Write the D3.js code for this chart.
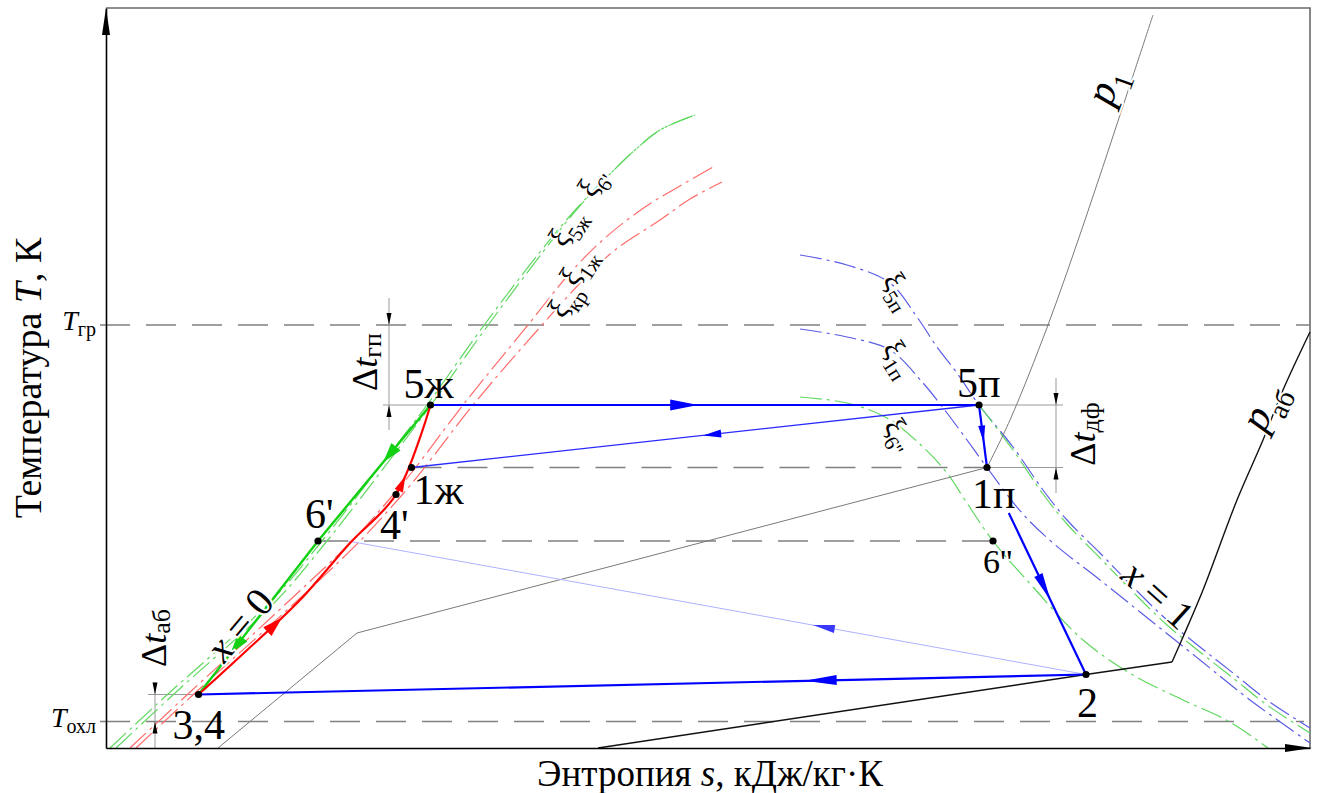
<!DOCTYPE html>
<html>
<head>
<meta charset="utf-8">
<script src="https://cdn.jsdelivr.net/npm/d3@7"></script>
<style>
  body { margin: 0; background: #fff; }
  svg text { font-family: "Liberation Serif", "Times New Roman", serif; fill: #000; }
</style>
</head>
<body>
<svg id="chart" width="1322" height="793" font-family="'Liberation Serif', 'Times New Roman', serif"></svg>
<script>
// ---- cycle state points (s, T in diagram units) ----
const pointLabels = ["5ж", "5п", "1ж", "1п", "4'", "6'", "6''", "3,4", "2"];
const pointS = [3.245, 8.73, 3.055, 8.81, 2.90, 2.12, 8.87, 0.925, 9.80];
const pointT = [3.43, 3.43, 2.805, 2.805, 2.535, 2.07, 2.07, 0.535, 0.735];

// characteristic temperatures on the T axis
const levelNames = ["гр", "охл"];
const levelT = [4.23, 0.265];

// concentration lines, liquid side (x = 0)
const xi6p  = [[0.04,0],[0.62,0.54],[1.66,1.48],[2.16,2.07],[2.75,2.83],[3.21,3.43],[3.76,4.20],[4.34,4.96],[4.71,5.40],[5.04,5.74],[5.29,5.98],[5.54,6.18],[5.89,6.33]];
const xi5zh = [[0.10,0],[0.68,0.54],[1.71,1.48],[2.21,2.07],[2.80,2.83],[3.25,3.43],[3.80,4.20],[4.37,4.96],[4.72,5.40],[5.04,5.74],[5.29,5.98],[5.54,6.18],[5.89,6.33]];
const xi1zh = [[0.24,0],[0.82,0.54],[1.84,1.48],[2.46,2.07],[2.87,2.53],[3.10,2.81],[3.57,3.43],[4.22,4.23],[4.64,4.75],[4.99,5.10],[5.39,5.41],[5.74,5.62],[6.09,5.82]];
const xiKr  = [[0.30,0],[0.88,0.54],[1.92,1.48],[2.54,2.07],[2.96,2.53],[3.19,2.81],[3.67,3.43],[4.36,4.23],[4.79,4.70],[5.09,4.98],[5.54,5.28],[5.84,5.49],[6.16,5.66]];

// concentration lines, vapour side (x = 1)
const xi5p  = [[6.94,4.93],[7.41,4.83],[7.84,4.65],[8.11,4.31],[8.31,4.01],[8.51,3.75],[8.73,3.43],[9.07,3.01],[9.37,2.58],[9.61,2.28],[9.94,1.95],[10.27,1.61],[10.61,1.28],[10.94,1.01],[11.27,0.75],[11.61,0.48],[12.04,0.20]];
const xi1p  = [[6.94,4.19],[7.41,4.11],[7.84,3.98],[8.17,3.65],[8.41,3.35],[8.61,3.08],[8.81,2.805],[9.16,2.35],[9.47,2.05],[9.94,1.68],[10.44,1.28],[10.94,0.88],[11.44,0.48],[12.04,0.05]];
const xi5zhVap = [[8.73,3.43],[9.07,2.98],[9.37,2.54],[9.61,2.24],[9.94,1.90],[10.27,1.56],[10.61,1.23],[10.94,0.96],[11.27,0.70],[11.61,0.43],[12.04,0.15]];
const xi6pp = [[6.94,3.51],[7.41,3.45],[7.81,3.30],[8.17,3.01],[8.41,2.75],[8.59,2.48],[8.87,2.07],[9.27,1.61],[9.77,1.08],[10.27,0.73],[10.77,0.48],[11.24,0.26],[11.62,0]];

// isobars
const p1Low   = [[1.12,0],[2.51,1.15],[8.81,2.805]];
const p1High  = [[8.81,2.805],[9.04,3.28],[9.42,4.23],[9.79,5.28],[10.14,6.33],[10.47,7.33]];
const pAbLow  = [[4.92,0],[9.80,0.735],[10.66,0.86]];
const pAbHigh = [[10.66,0.86],[10.77,1.11],[10.97,1.58],[11.31,2.48],[11.57,3.08],[11.77,3.58],[12.04,4.16]];

// absorbent heating 3,4 -> 4'
const absorbentHeat = [[0.925,0.535],[1.39,0.96],[1.94,1.48],[2.44,2.05],[2.90,2.535]];
// end of the recuperative line from 2 at the 6' temperature
const regenEnd = [2.42, 2.07];

// ---- scales ----
const x = d3.scaleLinear().domain([0, 12.04]).range([106, 1310]);
const y = d3.scaleLinear().domain([0, 7.40]).range([748, 8]);
const P = name => { const i = pointLabels.indexOf(name); return [pointS[i], pointT[i]]; };

const smooth = d3.line().x(d => x(d[0])).y(d => y(d[1])).curve(d3.curveCatmullRom.alpha(0.5));
const straight = d3.line().x(d => x(d[0])).y(d => y(d[1]));

const FONT = "'Liberation Serif', 'Times New Roman', serif";
const svg = d3.select("#chart");
const gGrid = svg.append("g");
const gCurves = svg.append("g");
const gIso = svg.append("g");
const gProc = svg.append("g");
const gMarks = svg.append("g");
const gText = svg.append("g").attr("font-family", FONT);

// ---- frame and axes ----
const sMax = x.domain()[1], tMax = y.domain()[1];
gGrid.append("path").attr("d", straight([[0, tMax], [sMax, tMax], [sMax, 0]]))
  .attr("fill", "none").attr("stroke", "#6a6a6a").attr("stroke-width", 1.6);

const yAxis = svg.append("g").attr("transform", `translate(${x(0)},0)`)
  .call(d3.axisLeft(y).tickValues([]).tickSizeOuter(0));
const xAxis = svg.append("g").attr("transform", `translate(0,${y(0)})`)
  .call(d3.axisBottom(x).tickValues([]).tickSizeOuter(0));
[yAxis, xAxis].forEach(a => a.select(".domain").attr("stroke", "#000").attr("stroke-width", 1.6));
// axis arrowheads
svg.append("path").attr("d", `M${x(0)},${y(tMax)}L${x(0) - 4},${y(tMax) + 27}L${x(0) + 4},${y(tMax) + 27}Z`).attr("fill", "#000");
svg.append("path").attr("d", `M${x(sMax) + 2},${y(0)}L${x(sMax) - 25},${y(0) - 4}L${x(sMax) - 25},${y(0) + 4}Z`).attr("fill", "#000");

// ---- dashed temperature levels ----
function dashed(a, b) {
  gGrid.append("path").attr("d", straight([a, b]))
    .attr("fill", "none").attr("stroke", "#808080").attr("stroke-width", 1.5)
    .attr("stroke-dasharray", "30,16");
}
dashed([-0.06, levelT[0]], [sMax, levelT[0]]);
dashed([-0.06, levelT[1]], [sMax - 0.06, levelT[1]]);
dashed(P("1ж"), P("1п"));
dashed(P("6'"), P("6''"));

// ---- thin extension and dimension lines ----
function thin(a, b, col) {
  gGrid.append("path").attr("d", straight([a, b])).attr("fill", "none")
    .attr("stroke", col || "#9a9a9a").attr("stroke-width", 1);
}
thin([2.77, P("5ж")[1]], P("5ж"));
thin(P("5п"), [9.57, P("5п")[1]]);
thin(P("1п"), [9.57, P("1п")[1]]);
thin([0.42, P("3,4")[1]], P("3,4"));
thin([2.83, 4.50], [2.83, 3.18]);
thin([9.50, 3.70], [9.50, 2.55]);
thin([0.49, 0.66], [0.49, 0]);

function dimArrow(sv, Tv, dir) {
  // small filled arrowhead pointing to level Tv; dir = +1 pointing down, -1 pointing up
  const px = x(sv), py = y(Tv);
  gMarks.append("path").attr("d", `M${px},${py}L${px - 2.5},${py - dir * 12}L${px + 2.5},${py - dir * 12}Z`).attr("fill", "#000");
}
dimArrow(2.83, levelT[0], 1);
dimArrow(2.83, P("5ж")[1], -1);
dimArrow(9.50, P("5п")[1], 1);
dimArrow(9.50, P("1п")[1], -1);
dimArrow(0.49, P("3,4")[1], 1);
dimArrow(0.49, levelT[1], -1);

// ---- concentration curves ----
function dashDot(data, col) {
  gCurves.append("path").attr("d", smooth(data)).attr("fill", "none")
    .attr("stroke", col).attr("stroke-width", 1.2).attr("stroke-dasharray", "22,5,3,5");
}
const cGreen = "#5fd85f", cRed = "#ff6b6b", cBlue = "#5c5ce6";
dashDot(xi6p, cGreen);
dashDot(xi5zh, cGreen);
dashDot(xi1zh, cRed);
dashDot(xiKr, cRed);
dashDot(xi5p, cBlue);
dashDot(xi1p, cBlue);
dashDot(xi5zhVap, cGreen);
dashDot(xi6pp, cGreen);

// ---- isobars ----
gIso.append("path").attr("d", straight(p1Low)).attr("fill", "none").attr("stroke", "#7a7a7a").attr("stroke-width", 1);
gIso.append("path").attr("d", smooth(p1High)).attr("fill", "none").attr("stroke", "#7a7a7a").attr("stroke-width", 1);
gIso.append("path").attr("d", straight(pAbLow)).attr("fill", "none").attr("stroke", "#111").attr("stroke-width", 1.4);
gIso.append("path").attr("d", smooth(pAbHigh)).attr("fill", "none").attr("stroke", "#111").attr("stroke-width", 1.4);

// ---- cycle process lines with direction arrows ----
function proc(d, col, w, gen) {
  return gProc.append("path").attr("d", (gen || straight)(d)).attr("fill", "none")
    .attr("stroke", col).attr("stroke-width", w).attr("stroke-linejoin", "round");
}
function arrowOn(path, frac, len, hw, col) {
  const node = path.node(), L = node.getTotalLength();
  const tip = node.getPointAtLength(frac * L);
  const back = node.getPointAtLength(Math.max(0, frac * L - 4));
  const ang = Math.atan2(tip.y - back.y, tip.x - back.x);
  const bx = tip.x - len * Math.cos(ang), by = tip.y - len * Math.sin(ang);
  const nx = -Math.sin(ang) * hw, ny = Math.cos(ang) * hw;
  gMarks.append("path")
    .attr("d", `M${tip.x},${tip.y}L${bx + nx},${by + ny}L${bx - nx},${by - ny}Z`)
    .attr("fill", col);
}

const blue = "#0000ff";
// recuperative heat exchange 2 -> 6' level (light)
const regen = proc([P("2"), regenEnd], "#aeb2ff", 1);
arrowOn(regen, 0.37, 22, 4, "#3a3aff");
// weak vapour 5п -> 1ж
const back = proc([P("5п"), P("1ж")], "#2a2aff", 1.3);
arrowOn(back, 0.486, 18, 4, blue);
// generation 5ж -> 5п
const gen = proc([P("5ж"), P("5п")], blue, 2.2);
arrowOn(gen, 0.488, 28, 5.5, blue);
// dephlegmation 5п -> 1п
const deph = proc([P("5п"), P("1п")], blue, 2.2);
arrowOn(deph, 0.6, 17, 3.5, blue);
// 1п -> 2 (starts below the point label)
const start12 = d3.interpolateArray(P("1п"), P("2"))(0.22);
const exp12 = proc([start12, P("2")], blue, 2.2);
arrowOn(exp12, 0.54, 28, 4.5, blue);
// absorption 2 -> 3,4
const absb = proc([P("2"), P("3,4")], blue, 2.2);
arrowOn(absb, 0.317, 32, 5, blue);
// weak solution 5ж -> 6' -> 3,4
const green = "#12d012";
const weak = proc([P("5ж"), P("6'"), P("3,4")], green, 2.4);
arrowOn(weak, 0.2, 20, 6, green);
arrowOn(weak, 0.86, 20, 6, green);
// strong solution 3,4 -> 4' -> 5ж
const red = "#ff0000";
const strong = proc(absorbentHeat.concat([P("5ж")]), red, 2.2, smooth);
arrowOn(strong, 0.30, 20, 6, red);
arrowOn(strong, 0.80, 16, 4.5, red);

// ---- state point dots ----
gMarks.selectAll("circle.pt").data(pointLabels).join("circle")
  .attr("class", "pt")
  .attr("cx", (d, i) => x(pointS[i])).attr("cy", (d, i) => y(pointT[i]))
  .attr("r", 3.6).attr("fill", "#000");

// ---- text helpers ----
function rich(parent, parts, size, subSize, shiftK) {
  const t = parent.append("text").attr("font-size", size).attr("font-family", FONT);
  const shift = size * (shiftK == null ? 0.3 : shiftK);
  let down = false;
  parts.forEach(p => {
    const ts = t.append("tspan").text(p.t);
    if (p.i) ts.attr("font-style", "italic");
    if (p.sub) {
      ts.attr("font-size", subSize);
      if (!down) { ts.attr("dy", shift); down = true; }
    } else if (down) { ts.attr("dy", -shift); down = false; }
  });
  return t;
}

// point labels
const labelOffset = {
  "5ж": [-27, -7, 42], "5п": [-22, -8, 42], "1ж": [2, 36, 42], "1п": [-15, 40, 42],
  "4'": [-16, 44, 42], "6'": [-13, -13, 42], "6''": [-10, 32, 34], "3,4": [-26, 44, 42], "2": [-9, 42, 42]
};
pointLabels.forEach((n, i) => {
  const o = labelOffset[n];
  gText.append("text").attr("x", x(pointS[i]) + o[0]).attr("y", y(pointT[i]) + o[1])
    .attr("font-size", o[2]).attr("font-family", FONT).text(n);
});

// temperature level labels
levelNames.forEach((n, i) => {
  rich(gText, [{ t: "T", i: true }, { t: n, sub: true }], 28, 20, 0.22)
    .attr("x", x(0) - 10).attr("y", y(levelT[i]) + 5).attr("text-anchor", "end");
});

// rotated labels
function rotLabel(pos, ang, parts, size, subSize) {
  const g = gText.append("g").attr("transform", `translate(${x(pos[0])},${y(pos[1])}) rotate(${ang})`);
  const t = rich(g, parts, size, subSize).attr("text-anchor", "middle").attr("dy", size * 0.33);
  t.attr("stroke", "#fff").attr("stroke-width", 4).attr("paint-order", "stroke");
  return t;
}
rotLabel([4.86, 5.66], -57, [{ t: "ξ" }, { t: "6'", sub: true }], 30, 21);
rotLabel([4.60, 5.21], -57, [{ t: "ξ" }, { t: "5ж", sub: true }], 30, 21);
rotLabel([4.71, 4.82], -57, [{ t: "ξ" }, { t: "1ж", sub: true }], 30, 21);
rotLabel([4.58, 4.48], -57, [{ t: "ξ" }, { t: "кр", sub: true }], 30, 21);
rotLabel([7.94, 4.58], 58, [{ t: "ξ" }, { t: "5п", sub: true }], 30, 21);
rotLabel([7.94, 3.90], 58, [{ t: "ξ" }, { t: "1п", sub: true }], 30, 21);
rotLabel([7.94, 3.14], 58, [{ t: "ξ" }, { t: "6''", sub: true }], 30, 21);
rotLabel([9.98, 6.62], -70, [{ t: "p", i: true }, { t: "1", sub: true }], 42, 28);
rotLabel([11.56, 3.42], -64, [{ t: "p", i: true }, { t: "аб", sub: true }], 42, 28);
rotLabel([1.34, 1.23], -50, [{ t: "x", i: true }, { t: " = 0" }], 40, 26);
rotLabel([10.52, 1.53], 42, [{ t: "x", i: true }, { t: " = 1" }], 40, 26);

// dimension labels
function dimLabel(px, pyC, sub) {
  rich(gText.append("g").attr("transform", `translate(${px},${pyC}) rotate(-90)`),
    [{ t: "Δ" }, { t: "t", i: true }, { t: sub, sub: true }], 36, 26, 0.12)
    .attr("text-anchor", "middle");
}
dimLabel(x(2.71), y(3.86), "гп");
dimLabel(x(9.89), y(3.14), "дф");
dimLabel(x(0.60), y(1.10), "аб");

// axis titles
rich(gText.append("g").attr("transform", `translate(41,${y(3.70)}) rotate(-90)`),
  [{ t: "Температура " }, { t: "T", i: true }, { t: ", К" }], 38, 38).attr("text-anchor", "middle");
rich(gText, [{ t: "Энтропия " }, { t: "s", i: true }, { t: ", кДж/кг·К" }], 37, 37)
  .attr("x", 710).attr("y", 786).attr("text-anchor", "middle");
</script>
</body>
</html>
